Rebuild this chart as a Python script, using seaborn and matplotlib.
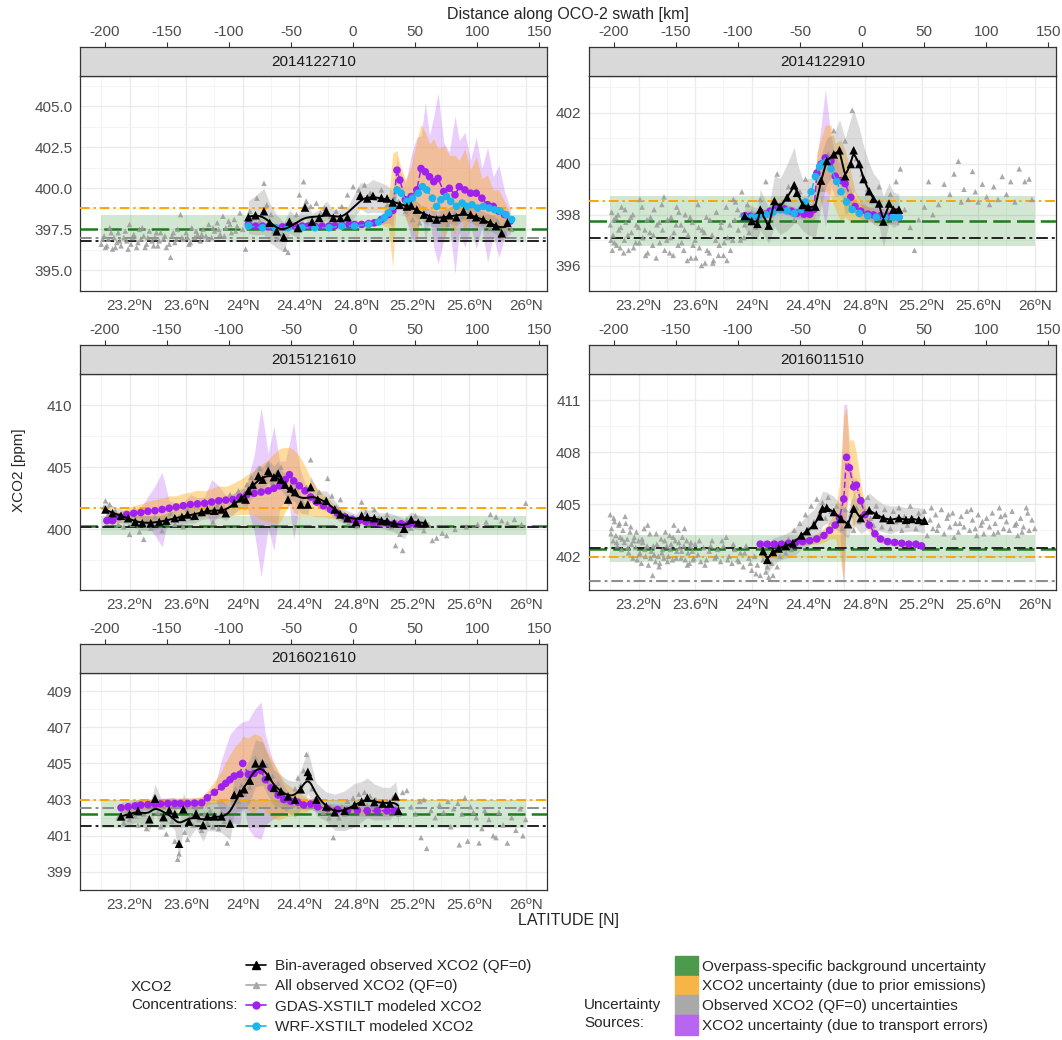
import numpy as np
import matplotlib
matplotlib.use("Agg")
import matplotlib.pyplot as plt
import seaborn as sns
from matplotlib.lines import Line2D
from matplotlib.patches import Patch

# ---------------- 2014122710 ----------------
p1_obs_lat = [23.00, 23.02, 23.03, 23.05, 23.06, 23.08, 23.09, 23.11, 23.12, 23.14,
              23.16, 23.18, 23.20, 23.21, 23.23, 23.25, 23.27, 23.28, 23.30, 23.32,
              23.34, 23.36, 23.38, 23.40, 23.42, 23.44, 23.46, 23.49, 23.50, 23.52,
              23.54, 23.56, 23.58, 23.60, 23.62, 23.64, 23.66, 23.68, 23.70, 23.72,
              23.74, 23.76, 23.78, 23.80, 23.82, 23.84, 23.86, 23.88, 23.90, 23.92,
              23.94, 23.96, 23.98, 24.00, 24.02, 24.05, 24.08, 24.10, 24.12, 24.15,
              24.17, 24.20, 24.22, 24.25, 24.28, 24.30, 24.32, 24.35, 24.38, 24.40,
              24.43, 24.45, 24.48, 24.52, 24.55, 24.58, 24.62, 24.66, 24.70, 24.74,
              24.78, 24.82, 24.86, 24.90, 24.94, 24.98, 25.02, 25.06, 25.10, 25.15,
              25.20, 25.25, 25.30, 25.35, 25.40, 25.45, 25.50, 25.55, 25.60, 25.65,
              25.70, 25.75, 25.80, 25.85, 25.90,
              23.01, 23.04, 23.07, 23.10, 23.13, 23.17, 23.19, 23.22, 23.26, 23.29,
              23.31, 23.33, 23.37, 23.39, 23.41, 23.45, 23.48, 23.51, 23.53, 23.57,
              23.61, 23.63, 23.67, 23.71, 23.75, 23.79, 23.83, 23.87, 23.91, 23.95]
p1_obs_xco2 = [396.6, 397.1, 396.4, 396.9, 397.6, 396.3, 397.0, 396.7, 397.3, 396.5,
               397.0, 396.8, 397.8, 396.6, 397.2, 396.4, 397.5, 396.9, 397.1, 396.6,
               397.4, 396.8, 397.0, 396.5, 397.3, 396.9, 396.4, 395.8, 397.1, 396.7,
               397.5, 398.4, 396.9, 397.3, 396.6, 397.6, 397.0, 397.2, 396.8, 397.5,
               397.1, 397.8, 397.0, 397.4, 397.9, 397.2, 398.3, 397.6, 398.0, 397.3,
               398.1, 397.7, 398.5, 397.5, 396.3, 398.6, 398.2, 399.4, 398.0, 400.3,
               399.0, 398.4, 397.4, 396.9, 397.2, 396.3, 396.1, 397.8, 398.4, 399.6,
               400.4, 399.2, 398.9, 399.1, 398.5, 398.8, 398.3, 398.6, 398.9, 399.6,
               400.1, 399.9, 400.2, 399.7, 399.4, 399.9, 399.0, 398.8, 399.2, 398.6,
               398.1, 397.9, 398.4, 398.0, 398.2, 397.8, 398.5, 398.3, 398.7, 398.2,
               397.9, 397.6, 398.0, 397.3, 397.5,
               396.9, 396.5, 397.3, 396.4, 396.8, 397.4, 396.3, 397.0, 396.7, 397.6,
               396.4, 397.0, 396.5, 397.3, 396.8, 397.1, 396.6, 397.3, 396.9, 397.0,
               397.0, 396.7, 397.4, 397.2, 396.9, 397.6, 397.5, 397.1, 397.8, 397.4]
p1_bin_lat = [24.04, 24.09, 24.15, 24.19, 24.24, 24.29, 24.33, 24.39, 24.44, 24.49,
              24.54, 24.59, 24.64, 24.69, 24.74, 24.83, 24.88, 24.92, 24.98, 25.02,
              25.06, 25.11, 25.16, 25.19, 25.23, 25.28, 25.32, 25.37, 25.42, 25.46,
              25.51, 25.56, 25.61, 25.65, 25.70, 25.75, 25.79, 25.83, 25.87]
p1_bin_xco2 = [398.24, 398.36, 398.6, 397.9, 397.38, 397.03, 397.97, 397.58, 398.83, 397.97,
               398.2, 398.63, 398.2, 398.2, 398.24, 399.54, 399.38, 399.54, 399.42, 399.38,
               399.14, 398.99, 398.89, 398.95, 398.7, 398.4, 398.2, 398.1, 398.2, 398.36,
               398.24, 398.6, 398.4, 398.24, 398.1, 397.9, 397.71, 397.26, 397.9]
p1_bin_unc = [1.0, 1.2, 1.4, 1.2, 1.0, 0.9, 0.7, 0.6, 0.6, 0.5,
              0.5, 0.6, 0.5, 0.5, 0.6, 0.8, 0.9, 1.0, 0.9, 0.8,
              0.7, 0.6, 0.6, 0.5, 0.5, 0.5, 0.5, 0.5, 0.5, 0.5,
              0.5, 0.5, 0.5, 0.5, 0.5, 0.5, 0.5, 0.5, 0.5]
p1_gdas_lat = [24.04, 24.09, 24.14, 24.18, 24.23, 24.28, 24.32, 24.37, 24.42, 24.46,
               24.51, 24.56, 24.61, 24.65, 24.70, 24.75, 24.79, 24.84, 24.89, 24.93,
               24.98, 25.03, 25.06, 25.09, 25.11, 25.15, 25.19, 25.23, 25.26, 25.29,
               25.32, 25.35, 25.38, 25.42, 25.46, 25.50, 25.53, 25.57, 25.61, 25.65,
               25.69, 25.73, 25.77, 25.81, 25.85, 25.89]
p1_gdas_xco2 = [397.8, 397.7, 397.7, 397.65, 397.6, 397.65, 397.7, 397.7, 397.7, 397.7,
                397.7, 397.7, 397.7, 397.72, 397.75, 397.78, 397.8, 397.8, 397.85, 397.9,
                398.1, 398.4, 398.65, 401.1, 400.5, 399.3, 399.5, 399.9, 401.2, 401.0,
                400.7, 400.4, 400.6, 399.8, 400.0, 399.6, 400.1, 399.9, 399.7, 399.7,
                399.4, 399.0, 398.9, 398.6, 398.4, 398.0]
p1_prior_unc = [0.15, 0.15, 0.15, 0.15, 0.15, 0.15, 0.15, 0.15, 0.15, 0.15,
                0.15, 0.15, 0.15, 0.15, 0.15, 0.15, 0.15, 0.15, 0.15, 0.15,
                0.3, 0.8, 3.5, 1.2, 1.0, 1.2, 1.8, 3.0, 2.7, 2.4,
                2.0, 2.6, 1.8, 2.8, 2.0, 2.4, 1.6, 2.5, 1.4, 2.2,
                1.2, 1.8, 1.0, 1.3, 0.8, 0.5]
p1_trans_unc = [0.2, 0.2, 0.2, 0.2, 0.2, 0.2, 0.2, 0.2, 0.2, 0.2,
                0.2, 0.2, 0.2, 0.2, 0.2, 0.2, 0.2, 0.2, 0.2, 0.2,
                0.3, 0.5, 1.0, 0.8, 0.6, 1.0, 2.5, 3.2, 2.0, 4.2,
                2.5, 4.0, 5.2, 3.0, 2.2, 4.8, 2.8, 3.5, 2.0, 3.4,
                1.8, 3.5, 1.8, 2.8, 1.4, 0.8]
p1_wrf_lat = [24.04, 24.14, 24.23, 24.32, 24.42, 24.51, 24.61, 24.70, 24.79, 24.89,
              24.96, 25.00, 25.03, 25.06, 25.09, 25.12, 25.16, 25.20, 25.24, 25.27,
              25.30, 25.34, 25.37, 25.40, 25.44, 25.47, 25.51, 25.55, 25.58, 25.62,
              25.66, 25.70, 25.74, 25.78, 25.82, 25.86, 25.90]
p1_wrf_xco2 = [397.7, 397.6, 397.6, 397.6, 397.6, 397.6, 397.6, 397.7, 397.7, 397.8,
               397.95, 398.2, 398.5, 398.9, 399.9, 399.7, 399.2, 399.4, 399.7, 400.1,
               399.9, 399.4, 398.9, 399.3, 399.5, 399.2, 398.9, 399.1, 398.9, 399.0,
               398.8, 398.9, 398.8, 398.7, 398.6, 398.4, 398.1]
p1_bg = [396.75, 398.4]          # overpass background range
p1_lines = {"orange": 398.8, "green": 397.55, "gray": 396.97, "black": 396.82}

# ---------------- 2014122910 ----------------
p2_obs_lat = [23.00, 23.01, 23.02, 23.03, 23.04, 23.06, 23.07, 23.08, 23.10, 23.11,
              23.13, 23.15, 23.16, 23.18, 23.20, 23.21, 23.23, 23.25, 23.26, 23.28,
              23.30, 23.31, 23.33, 23.35, 23.37, 23.38, 23.40, 23.42, 23.43, 23.45,
              23.47, 23.48, 23.50, 23.52, 23.53, 23.55, 23.57, 23.58, 23.60, 23.62,
              23.63, 23.65, 23.67, 23.68, 23.70, 23.72, 23.73, 23.75, 23.77, 23.78,
              23.80, 23.82, 23.83, 23.85, 23.87, 23.88, 23.90, 23.92, 23.93, 23.95,
              23.97, 23.98, 24.00, 24.03, 24.06, 24.10, 24.14, 24.18, 24.22, 24.26,
              24.30, 24.34, 24.38, 24.42, 24.46, 24.50, 24.54, 24.58, 24.62, 24.66,
              24.71, 24.74, 24.78, 24.82, 24.86, 24.90, 24.94, 24.98, 25.02, 25.05,
              25.08, 25.12, 25.15, 25.18, 25.22, 25.25, 25.28, 25.32, 25.36, 25.40,
              25.43, 25.46, 25.48, 25.50, 25.53, 25.56, 25.58, 25.60, 25.63, 25.66,
              25.68, 25.71, 25.74, 25.77, 25.80, 25.83, 25.86, 25.89, 25.93, 25.96,
              25.98,
              23.005, 23.015, 23.025, 23.045, 23.055, 23.075, 23.095, 23.105, 23.125, 23.145,
              23.165, 23.185, 23.205, 23.225, 23.245, 23.265, 23.285, 23.305, 23.325, 23.345,
              23.365, 23.385, 23.405, 23.425, 23.445, 23.465, 23.485, 23.505, 23.525, 23.545,
              23.565, 23.585, 23.605, 23.625, 23.645, 23.665, 23.685, 23.705, 23.725, 23.745,
              23.765, 23.785, 23.805, 23.825, 23.845, 23.865, 23.885, 23.905, 23.925, 23.945]
p2_obs_xco2 = [397.6, 398.1, 397.2, 396.9, 397.9, 397.4, 396.7, 398.3, 397.0, 397.7,
               396.6, 397.3, 398.0, 396.9, 397.5, 398.6, 397.1, 396.4, 397.8, 397.3,
               396.8, 398.2, 397.6, 396.9, 397.4, 398.7, 397.0, 396.5, 397.9, 397.3,
               398.3, 396.8, 397.6, 396.6, 398.0, 397.2, 396.3, 397.7, 397.0, 398.4,
               396.7, 397.4, 396.1, 397.9, 396.5, 397.2, 396.2, 398.1, 396.8, 397.5,
               396.4, 398.3, 397.1, 396.6, 398.6, 397.8, 398.2, 397.0, 398.9, 397.6,
               398.4, 397.3, 398.1, 397.5, 398.6, 399.3, 398.0, 399.6, 398.5, 399.1,
               397.8, 398.9, 399.4, 398.2, 399.8, 399.0, 400.4, 401.3, 400.6, 400.9,
               402.1, 400.2, 399.6, 399.0, 398.6, 399.1, 397.8, 398.8, 399.3, 399.8,
               398.2, 397.5, 396.6, 397.8, 398.3, 399.3, 398.0, 398.4, 399.2, 398.8,
               399.6, 400.1, 398.5, 399.0, 398.6, 399.7, 398.9, 398.5, 399.2, 398.7,
               398.4, 399.1, 398.6, 399.5, 398.8, 399.3, 398.5, 399.8, 399.3, 399.4,
               398.6,
               397.0, 396.6, 397.8, 396.8, 398.0, 397.5, 396.5, 398.2, 397.2, 397.9,
               396.7, 397.6, 396.9, 398.3, 397.4, 396.5, 397.9, 397.2, 396.3, 397.7,
               398.4, 396.6, 397.8, 397.1, 396.4, 397.6, 398.1, 396.9, 397.4, 396.2,
               397.9, 396.8, 396.3, 397.5, 396.0, 397.3, 396.6, 397.8, 396.1, 397.0,
               396.4, 397.7, 396.9, 396.2, 397.6, 397.0, 398.5, 397.4, 398.0, 397.1]
p2_bin_lat = [23.95, 24.00, 24.04, 24.06, 24.12, 24.16, 24.20, 24.25, 24.30, 24.32,
              24.36, 24.40, 24.45, 24.49, 24.53, 24.58, 24.62, 24.66, 24.70, 24.72,
              24.76, 24.79, 24.83, 24.86, 24.90, 24.93, 24.97, 25.00, 25.04]
p2_bin_xco2 = [397.94, 397.75, 397.64, 398.2, 397.57, 398.54, 398.32, 398.68, 399.16, 398.86,
               398.38, 398.3, 398.32, 399.34, 400.11, 400.37, 400.53, 399.51, 399.99, 400.53,
               399.99, 399.4, 398.92, 398.62, 398.44, 397.73, 398.44, 398.2, 398.2]
p2_bin_unc = [0.5, 0.6, 0.6, 0.8, 0.7, 1.0, 1.1, 1.3, 1.5, 1.2,
              1.0, 1.1, 1.2, 1.0, 0.9, 0.8, 1.2, 1.5, 1.8, 1.6,
              1.4, 1.3, 1.1, 1.0, 0.9, 1.0, 0.8, 0.7, 0.6]
p2_gdas_lat = [23.95, 23.99, 24.04, 24.09, 24.13, 24.18, 24.23, 24.28, 24.32, 24.37,
               24.41, 24.44, 24.46, 24.49, 24.52, 24.56, 24.59, 24.63, 24.66, 24.70,
               24.73, 24.77, 24.82, 24.86, 24.91, 24.96, 25.00, 25.04]
p2_gdas_xco2 = [397.96, 397.94, 397.94, 398.02, 398.14, 398.26, 398.23, 398.14, 398.06, 398.02,
                398.02, 398.2, 399.63, 399.99, 400.23, 400.11, 399.51, 399.34, 399.22, 398.68,
                398.32, 398.14, 398.02, 397.99, 397.96, 397.94, 397.94, 397.9]
p2_prior_unc = [0.15, 0.15, 0.15, 0.15, 0.15, 0.15, 0.15, 0.15, 0.15, 0.15,
                0.15, 0.5, 0.8, 1.0, 1.3, 1.4, 1.3, 1.6, 1.3, 1.0,
                0.6, 0.4, 0.3, 0.2, 0.2, 0.2, 0.2, 0.2]
p2_trans_unc = [0.2, 0.2, 0.2, 0.2, 0.2, 0.2, 0.2, 0.2, 0.2, 0.2,
                0.2, 0.2, 0.6, 1.5, 2.7, 1.0, 0.8, 0.6, 0.3, 0.3,
                0.3, 0.3, 0.3, 0.3, 0.3, 0.3, 0.3, 0.3]
p2_wrf_lat = [23.95, 24.00, 24.05, 24.10, 24.15, 24.20, 24.25, 24.30, 24.35, 24.38,
              24.42, 24.45, 24.48, 24.50, 24.53, 24.56, 24.60, 24.63, 24.67, 24.71,
              24.76, 24.82, 24.88, 24.94, 25.00, 25.04]
p2_wrf_xco2 = [397.9, 397.9, 397.95, 398.0, 398.1, 398.2, 398.15, 398.05, 398.2, 398.5,
               398.9, 399.5, 399.9, 400.0, 400.1, 399.8, 399.3, 398.9, 398.5, 398.2,
               398.05, 397.95, 397.9, 397.9, 397.9, 397.9]
p2_bg = [396.75, 398.75]
p2_lines = {"orange": 398.52, "green": 397.75, "black": 397.1}

# ---------------- 2015121610 ----------------
p3_obs_lat = [23.02, 23.03, 23.05, 23.06, 23.08, 23.10, 23.12, 23.14, 23.16, 23.18,
              23.20, 23.22, 23.24, 23.27, 23.30, 23.32, 23.35, 23.38, 23.40, 23.43,
              23.46, 23.49, 23.52, 23.55, 23.58, 23.61, 23.64, 23.67, 23.70, 23.73,
              23.76, 23.79, 23.82, 23.85, 23.88, 23.91, 23.94, 23.97, 24.00, 24.03,
              24.06, 24.09, 24.12, 24.15, 24.18, 24.21, 24.24, 24.27, 24.30, 24.33,
              24.36, 24.39, 24.42, 24.45, 24.48, 24.51, 24.54, 24.57, 24.60, 24.63,
              24.66, 24.69, 24.72, 24.75, 24.78, 24.81, 24.84, 24.87, 24.90, 24.93,
              24.96, 24.99, 25.02, 25.05, 25.08, 25.11, 25.13, 25.16, 25.19, 25.22,
              25.25, 25.28, 25.31, 25.34, 25.37, 25.41, 25.44, 25.50, 25.58, 25.66,
              25.72, 25.75, 25.79, 25.83, 25.87, 25.92, 25.97, 26.00]
p3_obs_xco2 = [401.8, 402.3, 401.2, 402.0, 400.9, 401.5, 400.4, 401.0, 400.2, 400.8,
               399.6, 400.4, 400.9, 399.8, 399.2, 400.6, 400.1, 401.0, 400.5, 399.9,
               400.8, 401.3, 400.4, 401.0, 400.2, 401.6, 400.9, 401.9, 401.2, 402.3,
               401.5, 400.6, 401.9, 402.4, 401.3, 402.8, 402.0, 403.1, 402.5, 403.6,
               404.2, 403.4, 404.9, 404.1, 405.2, 403.8, 404.6, 405.0, 403.5, 404.3,
               402.9, 403.7, 402.2, 403.4, 405.6, 402.5, 403.0, 402.1, 404.1, 402.7,
               401.8, 402.4, 401.2, 400.5, 401.0, 400.3, 402.2, 401.4, 400.8, 401.6,
               400.9, 400.4, 401.2, 400.2, 398.7, 399.6, 398.3, 400.8, 400.1, 401.1,
               400.5, 399.9, 400.4, 399.1, 399.3, 399.7, 399.5, 400.0, 400.2, 400.4,
               400.6, 401.2, 401.0, 400.7, 400.5, 400.8, 400.4, 402.1]
p3_bin_lat = [23.03, 23.08, 23.14, 23.19, 23.24, 23.29, 23.35, 23.41, 23.46, 23.52,
              23.57, 23.61, 23.66, 23.71, 23.75, 23.80, 23.85, 23.88, 23.94, 23.99,
              24.02, 24.04, 24.07, 24.11, 24.14, 24.18, 24.22, 24.25, 24.27, 24.30,
              24.32, 24.34, 24.37, 24.41, 24.46, 24.48, 24.53, 24.59, 24.65, 24.69,
              24.74, 24.80, 24.84, 24.88, 24.93, 24.98, 25.02, 25.07, 25.14, 25.19,
              25.24, 25.29]
p3_bin_xco2 = [401.6, 401.3, 401.1, 400.9, 400.6, 400.5, 400.5, 400.6, 400.7, 400.9,
               401.0, 401.2, 401.1, 401.4, 401.55, 401.5, 401.6, 401.3, 402.1, 402.5,
               402.4, 403.1, 403.6, 404.3, 404.0, 404.7, 404.2, 404.5, 404.0, 403.6,
               402.4, 403.3, 403.0, 402.0, 402.0, 403.4, 402.4, 402.3, 401.6, 401.2,
               400.9, 400.6, 401.1, 401.0, 400.9, 400.7, 400.65, 400.5, 400.05, 400.8,
               400.55, 400.5]
p3_bin_unc = [0.7, 0.6, 0.6, 0.5, 0.5, 0.6, 0.6, 0.5, 0.6, 0.6,
              0.6, 0.7, 0.6, 0.6, 0.7, 0.6, 0.7, 0.6, 0.8, 0.8,
              0.9, 0.9, 1.0, 0.9, 1.0, 0.9, 0.9, 1.0, 0.8, 0.9,
              0.8, 0.9, 0.8, 0.7, 0.8, 0.9, 0.7, 0.8, 0.7, 0.6,
              0.6, 0.6, 0.7, 0.6, 0.6, 0.6, 0.7, 0.7, 0.8, 0.6,
              0.6, 0.5]
p3_gdas_lat = [23.04, 23.08, 23.13, 23.18, 23.23, 23.28, 23.33, 23.38, 23.43, 23.48,
               23.53, 23.58, 23.63, 23.68, 23.73, 23.78, 23.83, 23.88, 23.93, 23.98,
               24.03, 24.08, 24.13, 24.18, 24.22, 24.26, 24.30, 24.33, 24.36, 24.40,
               24.44, 24.48, 24.52, 24.57, 24.62, 24.67, 24.72, 24.77, 24.82, 24.87,
               24.92, 24.97, 25.02, 25.07, 25.12, 25.17, 25.22]
p3_gdas_xco2 = [400.7, 400.7, 401.0, 401.2, 401.3, 401.35, 401.45, 401.5, 401.6, 401.7,
                401.8, 401.9, 402.0, 402.05, 402.1, 402.2, 402.3, 402.35, 402.4, 402.6,
                402.8, 402.9, 403.0, 403.1, 403.3, 403.5, 404.0, 404.4, 403.9, 403.5,
                403.1, 402.6, 402.2, 401.9, 401.6, 401.3, 401.0, 400.8, 400.7, 400.6,
                400.55, 400.5, 400.5, 400.45, 400.45, 400.4, 400.4]
p3_prior_unc = [0.2, 0.3, 0.4, 0.5, 0.6, 0.7, 0.8, 0.9, 0.9, 1.0,
                0.9, 1.0, 1.0, 1.1, 1.0, 1.1, 1.2, 1.1, 1.3, 1.4,
                1.6, 1.8, 2.2, 2.5, 2.8, 3.0, 2.6, 2.2, 2.5, 2.4,
                2.0, 1.5, 1.2, 0.9, 0.7, 0.5, 0.4, 0.3, 0.2, 0.2,
                0.2, 0.2, 0.2, 0.2, 0.2, 0.2, 0.2]
p3_trans_unc = [0.2, 0.2, 0.2, 0.3, 0.3, 0.4, 1.2, 2.0, 3.0, 0.6,
                0.3, 0.3, 0.8, 0.5, 0.5, 1.8, 1.2, 0.4, 0.5, 0.4,
                1.0, 3.0, 6.8, 3.0, 5.0, 2.0, 1.5, 2.5, 4.7, 1.5,
                0.6, 0.4, 0.3, 0.3, 0.3, 0.2, 0.2, 0.2, 0.2, 0.2,
                0.2, 0.2, 0.2, 0.2, 0.2, 0.2, 0.2]
p3_bg = [399.55, 401.05]
p3_lines = {"orange": 401.7, "green": 400.3, "black": 400.22}

# ---------------- 2016011510 ----------------
p4_obs_lat = [23.00, 23.01, 23.02, 23.03, 23.04, 23.05, 23.06, 23.07, 23.08, 23.09,
              23.10, 23.11, 23.12, 23.13, 23.14, 23.15, 23.16, 23.17, 23.18, 23.19,
              23.20, 23.21, 23.22, 23.23, 23.24, 23.25, 23.26, 23.27, 23.28, 23.29,
              23.30, 23.31, 23.32, 23.33, 23.34, 23.35, 23.36, 23.37, 23.38, 23.39,
              23.40, 23.41, 23.42, 23.43, 23.44, 23.45, 23.46, 23.47, 23.48, 23.49,
              23.50, 23.51, 23.52, 23.53, 23.54, 23.55, 23.56, 23.57, 23.58, 23.59,
              23.60,
              23.62, 23.64, 23.66, 23.68, 23.70, 23.72, 23.74, 23.76, 23.78, 23.80,
              23.82, 23.84, 23.86, 23.88, 23.90, 23.92, 23.94, 23.96, 23.98, 24.00,
              24.02, 24.04, 24.06, 24.08, 24.10, 24.12, 24.14, 24.16, 24.18, 24.20,
              24.22, 24.24, 24.26, 24.28, 24.30, 24.32, 24.34, 24.36, 24.38, 24.40,
              24.42, 24.44, 24.46, 24.48, 24.50, 24.52, 24.54, 24.56, 24.58, 24.60,
              24.62, 24.64, 24.66, 24.68, 24.70, 24.72, 24.74, 24.76, 24.78, 24.80,
              24.82, 24.84, 24.86, 24.88, 24.90, 24.92, 24.94, 24.96, 24.98, 25.00,
              25.02, 25.04, 25.06, 25.08, 25.10, 25.12, 25.14, 25.16, 25.18, 25.20,
              25.22, 25.24, 25.26, 25.28, 25.30, 25.32, 25.34, 25.36, 25.38, 25.40,
              25.42, 25.44, 25.46, 25.48, 25.50, 25.52, 25.54, 25.56, 25.58, 25.60,
              25.62, 25.64, 25.66, 25.68, 25.70, 25.72, 25.74, 25.76, 25.78, 25.80,
              25.82, 25.84, 25.86, 25.88, 25.90, 25.92, 25.94, 25.96, 25.98, 26.00,
              23.005, 23.025, 23.045, 23.065, 23.085, 23.105, 23.125, 23.145, 23.165, 23.185,
              23.205, 23.225, 23.245, 23.265, 23.285, 23.305, 23.325, 23.345, 23.365, 23.385,
              23.405, 23.425, 23.445, 23.465, 23.485, 23.505, 23.525, 23.545, 23.565, 23.585,
              23.63, 23.67, 23.71, 23.75, 23.79, 23.83, 23.87, 23.91, 23.95, 23.99,
              24.03, 24.07, 24.11, 24.15, 24.19, 25.23, 25.31, 25.39, 25.47, 25.55,
              25.63, 25.71, 25.79, 25.87, 25.95, 25.27, 25.43, 25.59, 25.75, 25.91]
p4_obs_xco2 = [404.4, 403.6, 402.9, 404.0, 403.2, 402.6, 403.8, 403.1, 402.4, 403.5,
               402.8, 403.9, 403.0, 402.2, 403.4, 402.7, 401.9, 403.1, 402.5, 401.8,
               402.9, 402.2, 401.6, 402.8, 403.6, 402.0, 402.6, 401.5, 403.3, 402.3,
               400.9, 402.1, 401.7, 402.7, 402.0, 401.6, 403.0, 402.4, 401.9, 403.4,
               402.6, 402.0, 403.2, 402.7, 401.8, 403.8, 402.9, 402.3, 403.5, 402.5,
               401.9, 403.1, 402.6, 401.8, 402.9, 402.2, 401.6, 402.8, 402.3, 401.9,
               402.7,
               402.1, 401.7, 402.5, 401.8, 402.3, 402.9, 401.9, 402.4, 401.7, 402.6,
               403.1, 402.0, 401.6, 402.4, 401.8, 402.2, 401.4, 402.6, 401.9, 401.2,
               402.0, 401.5, 400.9, 401.8, 401.1, 400.8, 401.6, 402.3, 401.4, 402.0,
               402.8, 402.2, 403.0, 402.4, 403.5, 402.9, 403.9, 403.2, 404.4, 403.6,
               404.9, 404.0, 405.3, 404.5, 405.1, 404.2, 405.4, 404.6, 403.8, 404.9,
               404.1, 403.6, 404.7, 403.9, 404.4, 403.5, 404.8, 404.0, 405.3, 404.6,
               405.4, 404.2, 403.8, 404.9, 404.3, 403.7, 404.7, 404.1, 403.6, 404.6,
               404.0, 404.8, 403.5, 404.3, 403.8, 404.9, 404.2, 403.6, 404.5, 403.9,
               404.6, 403.2, 404.1, 403.6, 404.4, 403.8, 404.7, 403.3, 404.2, 403.7,
               404.5, 403.9, 403.4, 404.3, 403.7, 404.6, 403.5, 404.1, 403.6, 404.4,
               403.8, 403.3, 404.2, 403.7, 404.5, 403.9, 403.4, 404.3, 403.6, 404.0,
               403.5, 404.6, 403.8, 403.2, 404.2, 403.7, 404.8, 403.5, 404.1, 403.6,
               403.3, 404.2, 402.8, 403.9, 403.0, 404.3, 402.5, 403.7, 402.9, 403.4,
               402.1, 403.0, 402.4, 403.8, 401.9, 402.6, 403.3, 401.4, 402.2, 402.9,
               401.7, 402.4, 403.1, 401.9, 402.8, 402.3, 403.6, 401.5, 402.6, 401.8,
               402.9, 401.5, 402.6, 402.0, 402.9, 401.8, 402.7, 401.7, 402.2, 401.6,
               401.0, 402.2, 401.4, 400.9, 402.6, 404.0, 403.5, 404.4, 403.9, 404.7,
               404.0, 403.3, 404.4, 403.9, 404.5, 404.8, 403.1, 403.2, 404.8, 403.4]
p4_bin_lat = [24.08, 24.11, 24.15, 24.19, 24.24, 24.29, 24.35, 24.39, 24.44, 24.48,
              24.50, 24.53, 24.58, 24.63, 24.68, 24.72, 24.77, 24.83, 24.88, 24.93,
              24.98, 25.04, 25.09, 25.13, 25.18, 25.22]
p4_bin_xco2 = [402.3, 401.8, 402.25, 402.45, 402.6, 402.75, 403.2, 403.45, 403.8, 404.3,
               404.75, 404.8, 404.55, 404.15, 403.85, 404.75, 404.2, 404.65, 404.4, 404.2,
               404.1, 404.2, 404.1, 404.15, 404.1, 404.05]
p4_bin_unc = [0.7, 0.8, 0.8, 0.7, 0.7, 0.8, 0.8, 0.9, 0.9, 1.0,
              1.0, 0.9, 0.9, 0.8, 0.8, 0.9, 0.9, 1.0, 0.9, 0.8,
              0.8, 0.7, 0.7, 0.7, 0.7, 0.7]
p4_gdas_lat = [24.06, 24.11, 24.16, 24.21, 24.26, 24.31, 24.36, 24.41, 24.46, 24.51,
               24.55, 24.59, 24.62, 24.65, 24.67, 24.69, 24.72, 24.74, 24.77, 24.80,
               24.83, 24.87, 24.91, 24.96, 25.01, 25.06, 25.11, 25.16, 25.20]
p4_gdas_xco2 = [402.7, 402.7, 402.7, 402.7, 402.75, 402.8, 402.85, 402.9, 403.0, 403.2,
                403.5, 403.8, 404.2, 405.3, 407.7, 407.1, 406.0, 406.1, 405.2, 404.4,
                403.8, 403.3, 403.0, 402.85, 402.8, 402.75, 402.7, 402.7, 402.6]
p4_prior_unc = [0.15, 0.15, 0.15, 0.15, 0.15, 0.15, 0.2, 0.2, 0.3, 0.4,
                0.5, 0.8, 2.0, 4.8, 2.9, 1.6, 2.7, 1.8, 1.0, 0.6,
                0.4, 0.3, 0.2, 0.15, 0.15, 0.15, 0.15, 0.15, 0.15]
p4_trans_unc = [0.2, 0.2, 0.2, 0.2, 0.2, 0.2, 0.2, 0.2, 0.2, 0.2,
                0.2, 0.2, 0.5, 5.4, 3.1, 0.6, 0.5, 0.4, 0.3, 0.3,
                0.2, 0.2, 0.2, 0.2, 0.2, 0.2, 0.2, 0.2, 0.2]
p4_bg = [401.7, 403.2]
p4_lines = {"green": 402.42, "black": 402.47, "orange": 401.95, "gray": 400.55}

# ---------------- 2016021610 ----------------
p5_obs_lat = [23.12, 23.14, 23.16, 23.18, 23.20, 23.22, 23.24, 23.26, 23.28, 23.30,
              23.32, 23.34, 23.36, 23.38, 23.40, 23.42, 23.44, 23.46, 23.48, 23.50,
              23.52, 23.54, 23.55, 23.57, 23.59, 23.61, 23.63, 23.65, 23.67, 23.69,
              23.71, 23.73, 23.75, 23.77, 23.79, 23.81, 23.83, 23.85, 23.87, 23.89,
              23.91, 23.93, 23.95, 23.97, 23.99, 24.01, 24.03, 24.05, 24.07, 24.09,
              24.11, 24.13, 24.15, 24.17, 24.19, 24.21, 24.23, 24.25, 24.27, 24.29,
              24.31, 24.33, 24.35, 24.37, 24.39, 24.41, 24.43, 24.45, 24.47, 24.49,
              24.51, 24.53, 24.55, 24.57, 24.59, 24.61, 24.64, 24.66, 24.68, 24.70,
              24.72, 24.74, 24.76, 24.78, 24.80, 24.82, 24.84, 24.86, 24.88, 24.90,
              24.92, 24.94, 24.96, 24.98, 25.00, 25.02, 25.04, 25.06, 25.08, 25.10,
              25.13, 25.16, 25.19, 25.22, 25.25, 25.26, 25.28, 25.30, 25.33, 25.36,
              25.39, 25.42, 25.45, 25.47, 25.49, 25.52, 25.53, 25.55, 25.57, 25.59,
              25.61, 25.63, 25.65, 25.67, 25.69, 25.71, 25.74, 25.77, 25.79, 25.81,
              25.84, 25.87, 25.90, 25.93, 25.96, 25.98, 26.00]
p5_obs_xco2 = [402.0, 402.5, 401.7, 402.3, 401.9, 402.6, 402.1, 401.6, 402.8, 402.2,
               401.4, 402.0, 402.9, 403.2, 402.3, 401.5, 402.1, 401.1, 402.5, 401.8,
               400.7, 399.7, 400.0, 402.4, 401.2, 400.8, 402.1, 401.6, 402.5, 401.9,
               401.3, 402.2, 401.7, 402.4, 401.5, 402.0, 401.4, 402.3, 401.8, 400.6,
               401.9, 403.0, 403.6, 402.9, 403.8, 403.3, 404.2, 403.7, 404.8, 405.3,
               404.6, 405.1, 404.3, 404.9, 403.9, 404.3, 403.5, 403.9, 403.0, 403.4,
               402.8, 403.2, 402.7, 403.6, 404.2, 403.8, 404.6, 405.5, 404.3, 403.6,
               403.0, 402.6, 402.9, 402.3, 402.7, 402.0, 400.9, 402.4, 402.0, 402.6,
               402.2, 402.9, 402.4, 403.1, 402.6, 403.3, 402.8, 403.4, 402.7, 403.2,
               402.5, 403.0, 402.4, 402.8, 402.3, 402.9, 402.5, 403.1, 402.6, 402.2,
               403.4, 403.5, 402.6, 402.2, 402.9, 400.9, 403.0, 400.3, 402.4, 402.0,
               402.7, 402.3, 402.9, 401.5, 402.5, 402.8, 400.5, 402.2, 403.1, 400.7,
               402.6, 402.3, 402.0, 400.6, 401.4, 402.4, 401.9, 401.0, 400.9, 402.3,
               401.6, 400.6, 402.0, 401.3, 402.5, 401.0, 401.9]
p5_bin_lat = [23.14, 23.20, 23.26, 23.34, 23.38, 23.44, 23.48, 23.52, 23.55, 23.58,
              23.62, 23.67, 23.72, 23.75, 23.80, 23.85, 23.91, 23.94, 23.98, 24.01,
              24.05, 24.09, 24.14, 24.18, 24.22, 24.27, 24.32, 24.37, 24.41, 24.46,
              24.47, 24.52, 24.59, 24.65, 24.72, 24.79, 24.84, 24.88, 24.93, 24.99,
              25.04, 25.08, 25.10]
p5_bin_xco2 = [402.07, 402.2, 402.38, 401.91, 403.05, 402.03, 402.4, 402.2, 400.56, 402.46,
               401.78, 402.22, 401.59, 402.07, 402.07, 402.07, 401.67, 403.26, 403.37, 403.57,
               404.05, 405.0, 405.0, 404.29, 403.65, 403.46, 403.18, 403.0, 403.57, 404.53,
               404.3, 403.0, 402.62, 402.3, 402.38, 402.7, 402.89, 403.1, 402.86, 402.78,
               402.78, 403.18, 402.38]
p5_bin_unc = [0.6, 0.6, 0.6, 0.7, 0.8, 0.7, 0.7, 0.9, 1.0, 0.9,
              0.9, 0.8, 0.9, 0.8, 0.8, 0.9, 0.9, 1.0, 1.0, 1.1,
              1.2, 1.3, 1.2, 1.1, 1.0, 0.9, 0.9, 1.0, 1.1, 1.2,
              1.1, 0.9, 0.8, 1.0, 1.1, 1.2, 1.1, 1.1, 1.0, 0.9,
              0.9, 0.8, 0.7]
p5_gdas_lat = [23.14, 23.19, 23.24, 23.28, 23.33, 23.38, 23.42, 23.47, 23.52, 23.56,
               23.61, 23.66, 23.71, 23.75, 23.80, 23.85, 23.88, 23.91, 23.94, 23.98,
               24.00, 24.04, 24.08, 24.13, 24.16, 24.20, 24.25, 24.29, 24.34, 24.39,
               24.43, 24.48, 24.53, 24.60, 24.67, 24.74, 24.81, 24.88, 24.95, 25.02,
               25.07]
p5_gdas_xco2 = [402.55, 402.6, 402.65, 402.7, 402.72, 402.75, 402.76, 402.78, 402.78, 402.78,
                402.78, 402.8, 402.82, 403.1, 403.4, 403.7, 403.9, 404.1, 404.3, 404.4,
                405.0, 404.4, 404.45, 404.6, 404.1, 403.65, 403.25, 403.0, 402.9, 402.85,
                402.7, 402.75, 402.6, 402.5, 402.45, 402.4, 402.4, 402.38, 402.38, 402.38,
                402.38]
p5_prior_unc = [0.2, 0.2, 0.2, 0.25, 0.25, 0.3, 0.3, 0.3, 0.3, 0.3,
                0.3, 0.3, 0.35, 0.4, 0.6, 0.9, 1.2, 1.4, 1.6, 1.8,
                1.5, 2.0, 2.2, 1.9, 1.8, 1.6, 1.4, 1.0, 0.8, 0.6,
                0.5, 0.3, 0.2, 0.2, 0.2, 0.2, 0.2, 0.2, 0.2, 0.2,
                0.2]
p5_trans_unc = [0.3, 0.3, 0.3, 0.3, 0.3, 0.3, 0.3, 0.3, 0.3, 0.3,
                0.3, 0.3, 0.3, 0.3, 0.3, 1.5, 2.0, 2.5, 2.6, 2.8,
                2.3, 3.0, 3.5, 3.8, 2.5, 1.8, 1.2, 0.8, 0.3, 0.3,
                0.3, 0.3, 0.3, 0.3, 0.3, 0.3, 0.3, 0.3, 0.3, 0.3,
                0.3]
p5_bg = [401.45, 403.0]
p5_lines = {"orange": 403.0, "gray": 402.55, "green": 402.2, "black": 401.55}

swath_lat = [23.0, 26.0]
lat_ticks = [23.2, 23.6, 24.0, 24.4, 24.8, 25.2, 25.6, 26.0]
lat_labels = ["23.2ºN", "23.6ºN", "24ºN", "24.4ºN", "24.8ºN", "25.2ºN", "25.6ºN", "26ºN"]
km_ticks = [-200, -150, -100, -50, 0, 50, 100, 150]
km_origin_lat = 24.78
km_per_deg = 114.0

panels = [
    dict(name="2014122710", obs=(p1_obs_lat, p1_obs_xco2), bins=(p1_bin_lat, p1_bin_xco2, p1_bin_unc),
         gdas=(p1_gdas_lat, p1_gdas_xco2, p1_prior_unc, p1_trans_unc), wrf=(p1_wrf_lat, p1_wrf_xco2),
         bg=p1_bg, lines=p1_lines, bw=0.06, ylim=(394.18, 406.83),
         yt=[395, 397.5, 400, 402.5, 405], fmt="{:.1f}"),
    dict(name="2014122910", obs=(p2_obs_lat, p2_obs_xco2), bins=(p2_bin_lat, p2_bin_xco2, p2_bin_unc),
         gdas=(p2_gdas_lat, p2_gdas_xco2, p2_prior_unc, p2_trans_unc), wrf=(p2_wrf_lat, p2_wrf_xco2),
         bg=p2_bg, lines=p2_lines, bw=0.018, ylim=(395.73, 403.45),
         yt=[396, 398, 400, 402], fmt="{:.0f}"),
    dict(name="2015121610", obs=(p3_obs_lat, p3_obs_xco2), bins=(p3_bin_lat, p3_bin_xco2, p3_bin_unc),
         gdas=(p3_gdas_lat, p3_gdas_xco2, p3_prior_unc, p3_trans_unc), wrf=None,
         bg=p3_bg, lines=p3_lines, bw=0.05, ylim=(395.12, 411.05),
         yt=[400, 405, 410], fmt="{:.0f}"),
    dict(name="2016011510", obs=(p4_obs_lat, p4_obs_xco2), bins=(p4_bin_lat, p4_bin_xco2, p4_bin_unc),
         gdas=(p4_gdas_lat, p4_gdas_xco2, p4_prior_unc, p4_trans_unc), wrf=None,
         bg=p4_bg, lines=p4_lines, bw=0.018, ylim=(400.06, 411.38),
         yt=[402, 405, 408, 411], fmt="{:.0f}"),
    dict(name="2016021610", obs=(p5_obs_lat, p5_obs_xco2), bins=(p5_bin_lat, p5_bin_xco2, p5_bin_unc),
         gdas=(p5_gdas_lat, p5_gdas_xco2, p5_prior_unc, p5_trans_unc), wrf=None,
         bg=p5_bg, lines=p5_lines, bw=0.045, ylim=(398.7, 409.05),
         yt=[399, 401, 403, 405, 407, 409], fmt="{:.0f}"),
]

C_OBS = "#9A9A9A"
C_GDAS = "#A020F0"
C_WRF = "#1EB4EE"
LINE_STYLE = {
    "orange": ("#FFA500", (0, (5, 2, 1.2, 2)), 1.4),
    "green": ("#1F7A1F", (0, (7, 2.5)), 1.8),
    "black": ("#222222", (0, (6, 2, 1.5, 2)), 1.4),
    "gray": ("#8C8C8C", (0, (6, 2, 1.5, 2)), 1.4),
}
TICK_FS = 11


def smooth_line(x, y, bw, n=240):
    # local-linear gaussian smoother (stand-in for geom_smooth)
    x = np.asarray(x, float)
    y = np.asarray(y, float)
    grid = np.linspace(x.min(), x.max(), n)
    fit = []
    for g in grid:
        w = np.exp(-0.5 * ((x - g) / bw) ** 2)
        X = np.c_[np.ones_like(x), x - g]
        A = (X.T * w) @ X + 1e-9 * np.eye(2)
        b = (X.T * w) @ y
        fit.append(np.linalg.solve(A, b)[0])
    return grid, np.array(fit)


def draw_panel(ax, p):
    ax.fill_between(swath_lat, p["bg"][0], p["bg"][1], color="#228B22", alpha=0.2, lw=0, zorder=1)

    glat, gval, prior, trans = [np.asarray(v, float) for v in p["gdas"]]
    ax.fill_between(glat, gval - trans, gval + trans, color="#A020F0", alpha=0.22, lw=0, zorder=2)
    ax.fill_between(glat, gval - prior, gval + prior, color="#FFA500", alpha=0.38, lw=0, zorder=2.1)

    blat, bval, bunc = [np.asarray(v, float) for v in p["bins"]]
    ax.fill_between(blat, bval - bunc, bval + bunc, color="#808080", alpha=0.28, lw=0, zorder=2.2)

    for key, val in p["lines"].items():
        col, ls, lw = LINE_STYLE[key]
        ax.axhline(val, color=col, ls=ls, lw=lw, zorder=3)

    sns.scatterplot(x=p["obs"][0], y=p["obs"][1], ax=ax, marker="^", s=16, color=C_OBS,
                    edgecolor="none", alpha=0.85, zorder=4, legend=False)

    ax.plot(glat, gval, color=C_GDAS, ls=(0, (4, 2)), lw=1.1, zorder=5)
    sns.scatterplot(x=glat, y=gval, ax=ax, marker="o", s=30, color=C_GDAS,
                    edgecolor="none", zorder=5, legend=False)
    if p["wrf"] is not None:
        wlat, wval = p["wrf"]
        ax.plot(wlat, wval, color=C_WRF, ls=(0, (4, 2)), lw=1.1, zorder=5)
        sns.scatterplot(x=wlat, y=wval, ax=ax, marker="o", s=30, color=C_WRF,
                        edgecolor="none", zorder=5.1, legend=False)

    sx, sy = smooth_line(blat, bval, p["bw"])
    sns.lineplot(x=sx, y=sy, ax=ax, color="black", lw=1.4, zorder=6, sort=False, estimator=None)
    sns.scatterplot(x=blat, y=bval, ax=ax, marker="^", s=38, color="black",
                    edgecolor="none", zorder=7, legend=False)

    ax.set_xlim(22.85, 26.15)
    ax.set_ylim(*p["ylim"])
    ax.set_xticks(lat_ticks)
    ax.set_xticklabels(lat_labels)
    ax.set_xticks([t - 0.2 for t in lat_ticks], minor=True)
    yt = p["yt"]
    step = yt[1] - yt[0]
    ax.set_yticks(yt)
    ax.set_yticklabels([p["fmt"].format(v) for v in yt])
    ax.set_yticks([yt[0] - step / 2] + [v + step / 2 for v in yt], minor=True)
    ax.set_xlabel("")
    ax.set_ylabel("")
    ax.grid(which="major", color="#EBEBEB", lw=1.0, zorder=0)
    ax.grid(which="minor", color="#F3F3F3", lw=0.6, zorder=0)
    ax.set_axisbelow(True)
    ax.tick_params(which="major", direction="out", length=3.5, width=0.8, color="#333333",
                   labelcolor="#4D4D4D", labelsize=TICK_FS, pad=2)
    ax.tick_params(which="minor", length=0)
    for s in ax.spines.values():
        s.set_color("#333333")
        s.set_linewidth(0.9)


sns.set_theme(style="white")
plt.rcParams["font.family"] = ["Liberation Sans", "DejaVu Sans"]
plt.rcParams["axes.unicode_minus"] = False

W, H = 1062, 1040
fig = plt.figure(figsize=(W / 100, H / 100), dpi=100)

cols = [(80, 547), (589, 1056)]
rows = [(76, 291), (374, 590), (673, 890)]
strip_h = 29

for i, p in enumerate(panels):
    (x0, x1), (y0, y1) = cols[i % 2], rows[i // 2]
    ax = fig.add_axes([x0 / W, 1 - y1 / H, (x1 - x0) / W, (y1 - y0) / H])
    draw_panel(ax, p)

    sec = ax.secondary_xaxis(1 + strip_h / (y1 - y0),
                             functions=(lambda v: (v - km_origin_lat) * km_per_deg,
                                        lambda k: k / km_per_deg + km_origin_lat))
    sec.set_xticks(km_ticks)
    sec.set_xticklabels([str(k) for k in km_ticks])
    sec.tick_params(direction="out", length=3.5, width=0.8, color="#333333",
                    labelcolor="#4D4D4D", labelsize=TICK_FS, pad=2)
    for s in sec.spines.values():
        s.set_visible(False)

    sax = fig.add_axes([x0 / W, 1 - y0 / H, (x1 - x0) / W, strip_h / H])
    sax.set_facecolor("#D9D9D9")
    sax.set_xticks([])
    sax.set_yticks([])
    for s in sax.spines.values():
        s.set_color("#333333")
        s.set_linewidth(0.9)
    sax.text(0.5, 0.5, p["name"], ha="center", va="center", fontsize=11, color="#1A1A1A",
             transform=sax.transAxes)

fig.text(568 / W, 1 - 15 / H, "Distance along OCO-2 swath [km]", ha="center", va="center", fontsize=11.5)
fig.text(568 / W, 1 - 921 / H, "LATITUDE [N]", ha="center", va="center", fontsize=11.5)
fig.text(19 / W, 1 - 470 / H, "XCO2 [ppm]", ha="center", va="center", rotation=90, fontsize=11)

# legends
fig.text(131 / W, 1 - 996 / H, "XCO2\nConcentrations:", ha="left", va="center", fontsize=11,
         linespacing=1.3)
conc_handles = [
    Line2D([], [], color="black", marker="^", markersize=6, lw=1.2),
    Line2D([], [], color="#A8A8A8", marker="^", markersize=5, lw=1.2),
    Line2D([], [], color=C_GDAS, marker="o", markersize=5, lw=1.2),
    Line2D([], [], color=C_WRF, marker="o", markersize=5, lw=1.2),
]
conc_labels = ["Bin-averaged observed XCO2 (QF=0)", "All observed XCO2 (QF=0)",
               "GDAS-XSTILT modeled XCO2", "WRF-XSTILT modeled XCO2"]
fig.legend(conc_handles, conc_labels, loc="upper left", bbox_to_anchor=(246 / W, 1 - 959 / H),
           frameon=False, fontsize=11, handlelength=1.3, handletextpad=0.6,
           labelspacing=0.42, borderpad=0, borderaxespad=0)

fig.text(584 / W, 1 - 1014 / H, "Uncertainty\nSources:", ha="left", va="center", fontsize=11,
         linespacing=1.3)
unc_handles = [Patch(color="#4C9A4C"), Patch(color="#F7B548"), Patch(color="#A9A9A9"), Patch(color="#B866F2")]
unc_labels = ["Overpass-specific background uncertainty", "XCO2 uncertainty (due to prior emissions)",
              "Observed XCO2 (QF=0) uncertainties", "XCO2 uncertainty (due to transport errors)"]
fig.legend(unc_handles, unc_labels, loc="upper left", bbox_to_anchor=(675 / W, 1 - 956 / H),
           frameon=False, fontsize=11, handlelength=1.5, handleheight=1.6, handletextpad=0.3,
           labelspacing=0, borderpad=0, borderaxespad=0)

fig.savefig("out.png", dpi=100)
